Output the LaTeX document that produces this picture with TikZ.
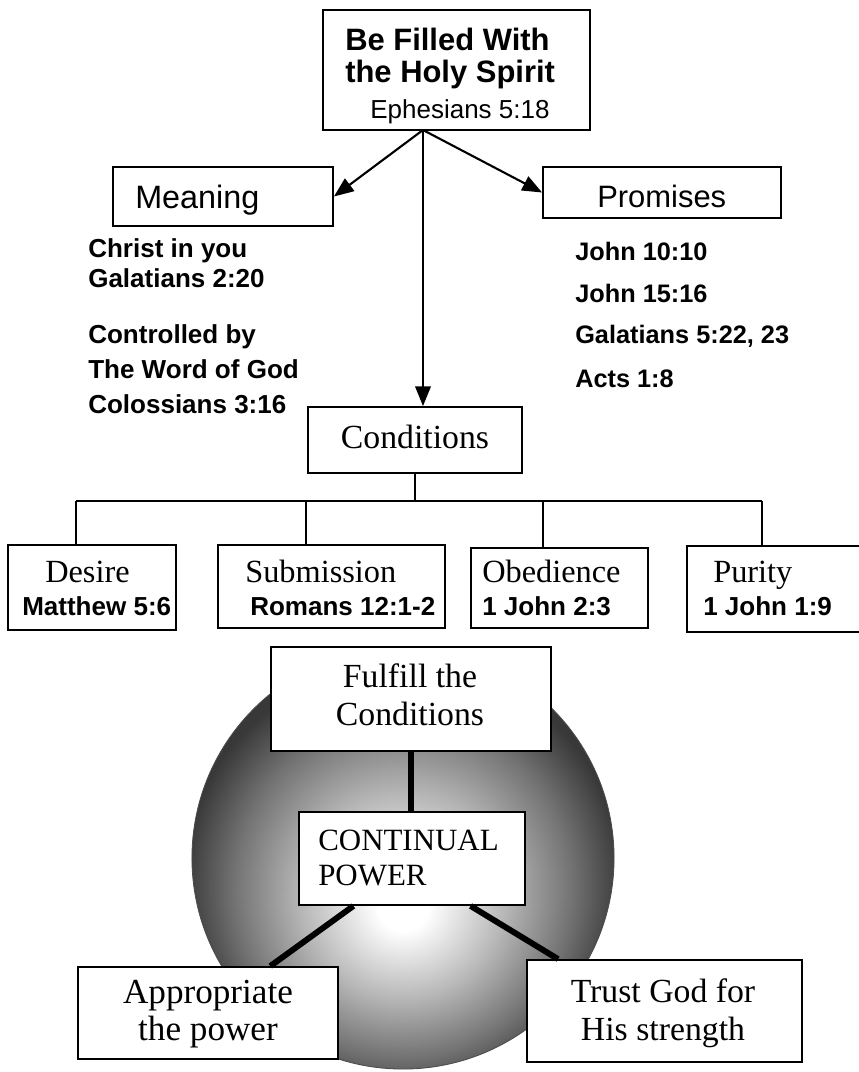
\documentclass[tikz,border=0pt]{standalone}
\usepackage{fontspec}
\setmainfont{Liberation Serif}
\setsansfont{Liberation Sans}
\usetikzlibrary{arrows.meta, fit}

\pgfdeclareradialshading{glow}{\pgfpoint{0bp}{-6bp}}{%
  color(0bp)=(white); color(3bp)=(white); color(12bp)=(black!28);
  color(20bp)=(black!55); color(26bp)=(black!78); color(50bp)=(black!78)}

\begin{document}
\begin{tikzpicture}[x=0.025cm, y=-0.025cm,
    box/.style={draw, line width=1.3pt, fill=white, inner sep=0pt},
    txt/.style={inner sep=0pt, anchor=base west},
    ctxt/.style={inner sep=0pt, anchor=base},
    sans/.style={font=\sffamily\fontsize{#1}{#1}\selectfont},
    bsans/.style={font=\sffamily\bfseries\fontsize{#1}{#1}\selectfont},
    serif/.style={font=\rmfamily\fontsize{#1}{#1}\selectfont},
    tip/.style={-{Triangle[length=14pt,width=11pt]}, line width=1.5pt},
    branch/.style={line width=1.1pt},
    bond/.style={line width=4.2pt}]
  \useasboundingbox (0,0) rectangle (858,1072);

  % the title
  \node[box, fit={(323,10) (590,130)}] (spirit) {};
  \node[txt, bsans=22] (title1) at (345,50) {Be Filled With};
  \node[txt, bsans=22] (title2) at (345,82) {the Holy Spirit};
  \node[txt, sans=18.5] (eph) at (370,118) {Ephesians 5:18};

  % meaning and promises
  \node[box, fit={(113,167) (333,226)}] (meaning) {};
  \node[txt, sans=23] (meaningtxt) at (135,208) {Meaning};
  \node[box, fit={(543,167) (781,218)}] (promises) {};
  \node[txt, sans=22] (promisestxt) at (597,207) {Promises};
  \foreach \y/\t [count=\i] in {257/Christ in you, 287/Galatians 2:20,
      343/Controlled by, 378/The Word of God, 413/Colossians 3:16}
    \node[txt, bsans=18.5] (mean\i) at (88,\y) {\t};
  \foreach \y/\t [count=\i] in {260/John 10:10, 302/John 15:16,
      {343/Galatians 5:22, 23}, 387/Acts 1:8}
    \node[txt, bsans=18] (prom\i) at (575,\y) {\t};

  \coordinate (fork) at (423,130);
  \draw[tip] (fork) -- (meaning.east);
  \draw[tip] (fork) -- (promises.west);

  % the conditions
  \node[box, fit={(308,407) (522,473)}] (cond) {};
  \node[ctxt, serif=24] (condtxt) at (415,448) {Conditions};
  \draw[tip] (fork) -- (fork |- cond.north);

  \coordinate (bar) at (415,501);
  \draw[branch] (cond.south) -- (bar);
  \draw[branch] (76,501) -- (762,501);
  \node[box, fit={(8,545) (176,630)}] (desire) {};
  \node[box, fit={(218,545) (445,628)}] (subm) {};
  \node[box, fit={(471,548) (648,628)}] (obed) {};
  \node[box, fit={(687,546) (880,632)}] (purity) {};
  \foreach \x/\n in {76/desire, 306/subm, 543/obed, 762/purity}
    \draw[branch] (\x,501) -- (\x,501 |- \n.north);
  \foreach \n/\xa/\xb/\w/\r in {desire/45/22/Desire/Matthew 5:6,
      subm/245/250/Submission/Romans 12:1-2, obed/482/482/Obedience/1 John 2:3,
      purity/713/703/Purity/1 John 1:9} {
    \node[txt, serif=23] (\n-w) at (\xa,582) {\w};
    \node[txt, bsans=18.5] (\n-r) at (\xb,615) {\r};
  }

  % the circle of power
  \shade[shading=glow, draw=black!70, line width=0.6pt] (403,858) circle [radius=5.275cm];
  \node[box, fit={(271,647) (551,751)}] (fulfill) {};
  \node[box, fit={(299,812) (525,905)}] (power) {};
  \node[box, fit={(78,967) (338,1059)}] (approp) {};
  \node[box, fit={(527,960) (802,1062)}] (trust) {};
  \draw[bond] (fulfill.south) -- (fulfill.south |- power.north);
  \draw[bond] (power.219) -- (approp.37);
  \draw[bond] (power.-39) -- (trust.154);

  \node[ctxt, serif=24] (ful1) at (410,687) {Fulfill the};
  \node[ctxt, serif=24] (ful2) at (410,725) {Conditions};
  \node[txt, serif=22] (pow1) at (318,850) {CONTINUAL};
  \node[txt, serif=22] (pow2) at (318,885) {POWER};
  \node[ctxt, serif=25] (app1) at (208,1003) {Appropriate};
  \node[ctxt, serif=25] (app2) at (208,1040) {the power};
  \node[ctxt, serif=24] (tr1) at (663,1002) {Trust God for};
  \node[ctxt, serif=24] (tr2) at (663,1040) {His strength};
\end{tikzpicture}
\end{document}
